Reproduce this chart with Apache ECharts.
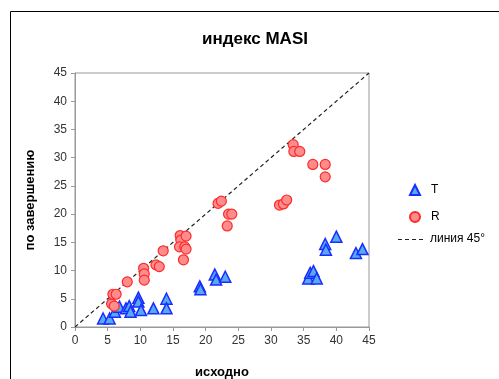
<!DOCTYPE html>
<html>
<head>
<meta charset="utf-8">
<script src="https://cdn.jsdelivr.net/npm/echarts@6/dist/echarts.min.js"></script>
<style>
  html, body { margin: 0; padding: 0; background: #fff; }
  #chart { width: 499px; height: 379px; }
</style>
</head>
<body>
<div id="chart"></div>
<script>
// T (triangles): [исходно, по завершению]
var tPoints = [
  [4.3, 1.5], [5.3, 1.5], [6.1, 2.7], [6.8, 3.6], [7.8, 3.3], [8.3, 3.7],
  [8.5, 2.7], [9.7, 5.2], [9.7, 4.5], [10.1, 3.0], [12.0, 3.3], [14.0, 5.0],
  [14.0, 3.3], [19.1, 7.2], [19.2, 6.7], [21.4, 9.3], [21.6, 8.4], [23.0, 8.9],
  [35.7, 8.6], [36.0, 9.6], [36.5, 9.9], [37.0, 8.6], [38.3, 14.7], [38.4, 13.7],
  [40.0, 16.0], [43.0, 13.1], [44.0, 13.8]
];
// R (circles)
var rPoints = [
  [5.6, 4.1], [6.0, 3.7], [5.8, 5.8], [6.3, 5.8], [8.0, 8.0], [10.5, 10.4],
  [10.6, 9.4], [10.6, 8.3], [12.4, 11.0], [12.9, 10.7], [13.5, 13.5],
  [16.1, 16.2], [16.2, 15.4], [17.0, 16.1], [16.0, 14.2], [16.8, 14.2],
  [17.0, 13.8], [16.6, 11.9], [21.9, 21.9], [22.4, 22.3], [23.5, 20.0],
  [24.0, 20.0], [23.3, 17.9], [31.3, 21.6], [31.9, 21.8], [32.4, 22.5],
  [33.4, 32.3], [33.5, 31.1], [34.4, 31.1], [36.4, 28.8], [38.3, 28.8],
  [38.3, 26.6]
];
var diagonal = [[0, 0], [45, 45]];
var axisTicks = { min: 0, max: 45, interval: 5 };

var chart = echarts.init(document.getElementById('chart'));
var font = 'Liberation Sans, Arial, sans-serif';
var option = {
  animation: false,
  textStyle: { fontFamily: font },
  title: {
    text: 'индекс MASI',
    left: 250, top: 26, textAlign: 'center',
    textStyle: { fontSize: 17, fontWeight: 'bold', color: '#000', fontFamily: font }
  },
  grid: {
    left: 75, right: 130, top: 73, bottom: 52,
    outerBoundsMode: 'none', containLabel: false,
    show: true, borderColor: '#999', borderWidth: 1
  },
  legend: {
    orient: 'vertical',
    left: 409, top: 184, padding: 0,
    itemWidth: 10, itemHeight: 10, itemGap: 15,
    textStyle: { fontSize: 12, color: '#000', fontFamily: font, padding: [0, 0, 0, 6] },
    data: [{ name: 'T', icon: 'triangle' }, { name: 'R', icon: 'circle' }]
  },
  xAxis: {
    type: 'value', min: axisTicks.min, max: axisTicks.max, interval: axisTicks.interval,
    name: 'исходно', nameLocation: 'middle', nameGap: 39,
    nameTextStyle: { fontSize: 13, fontWeight: 'bold', color: '#000' },
    splitLine: { show: false },
    axisLine: { lineStyle: { color: '#999' } },
    axisTick: { show: true, length: 4, lineStyle: { color: '#999' } },
    axisLabel: { fontSize: 12, color: '#333', margin: 8 }
  },
  yAxis: {
    type: 'value', min: axisTicks.min, max: axisTicks.max, interval: axisTicks.interval,
    name: 'по завершению', nameLocation: 'middle', nameGap: 38,
    nameTextStyle: { fontSize: 13, fontWeight: 'bold', color: '#000' },
    splitLine: { show: false },
    axisLine: { show: true, lineStyle: { color: '#999' } },
    axisTick: { show: true, length: 4, lineStyle: { color: '#999' } },
    axisLabel: { fontSize: 12, color: '#333', margin: 8 }
  },
  series: [
    {
      name: 'T', type: 'scatter', symbol: 'triangle', symbolSize: 11,
      itemStyle: { color: '#55aaf0', borderColor: '#1a2cff', borderWidth: 1.5, opacity: 1 },
      data: tPoints, z: 3
    },
    {
      name: 'R', type: 'scatter', symbol: 'circle', symbolSize: 10,
      itemStyle: { color: '#ff8c8c', borderColor: '#ff2a2a', borderWidth: 1.2, opacity: 1 },
      data: rPoints, z: 4
    },
    {
      name: 'линия 45°', type: 'line', showSymbol: false, symbol: 'none',
      lineStyle: { color: '#222', width: 1.2, type: [4, 3] },
      data: diagonal, z: 2
    }
  ],
  graphic: [
    { type: 'line', shape: { x1: 10.5, y1: 11.5, x2: 499, y2: 11.5 }, style: { stroke: '#000', lineWidth: 1 } },
    { type: 'line', shape: { x1: 10.5, y1: 11.5, x2: 10.5, y2: 379 }, style: { stroke: '#000', lineWidth: 1 } },
    // legend entry for the 45° line
    { type: 'line', shape: { x1: 398, y1: 239.5, x2: 426, y2: 239.5 },
      style: { stroke: '#222', lineWidth: 1.2, lineDash: [4, 3] } },
    { type: 'text', left: 430, top: 233,
      style: { text: 'линия 45°', fontSize: 12, fill: '#000', fontFamily: font } }
  ]
};
chart.setOption(option);
</script>
</body>
</html>
